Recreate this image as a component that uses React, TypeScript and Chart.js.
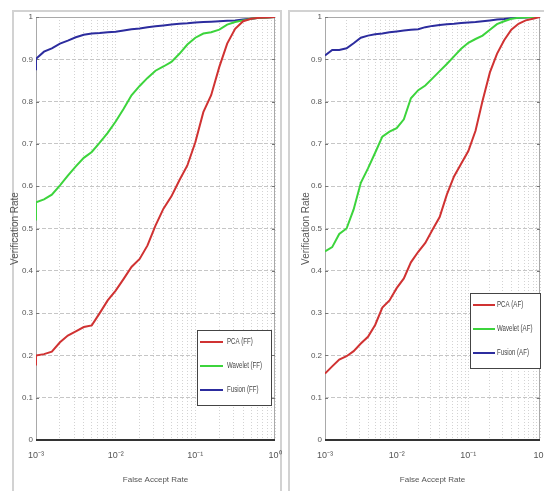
import React, { useEffect, useRef } from 'react';
import { Chart, registerables } from 'chart.js';

Chart.register(...registerables);

// ---------- data ----------
const FAR_LEFT = [0.001, 0.001, 0.00126, 0.00158, 0.002, 0.00251, 0.00316, 0.00398, 0.00501, 0.00631, 0.00794,
  0.01, 0.0126, 0.0158, 0.02, 0.0251, 0.0316, 0.0398, 0.0501, 0.0631, 0.0794,
  0.1, 0.126, 0.158, 0.2, 0.251, 0.316, 0.398, 0.501, 0.631, 0.794, 1];
const FAR_RIGHT = [0.001, 0.00126, 0.00158, 0.002, 0.00251, 0.00316, 0.00398, 0.00501, 0.00631, 0.00794,
  0.01, 0.0126, 0.0158, 0.02, 0.0251, 0.0316, 0.0398, 0.0501, 0.0631, 0.0794,
  0.1, 0.126, 0.158, 0.2, 0.251, 0.316, 0.398, 0.501, 0.631, 0.794, 1];

const PCA_FF = [0.176, 0.200, 0.203, 0.209, 0.231, 0.247, 0.257, 0.267, 0.271, 0.300, 0.330, 0.353, 0.381, 0.409,
  0.428, 0.460, 0.507, 0.547, 0.576, 0.614, 0.649, 0.704, 0.775, 0.815, 0.882, 0.937, 0.972, 0.990, 0.996, 0.998, 0.999, 1.0];
const WAVELET_FF = [0.519, 0.562, 0.569, 0.580, 0.602, 0.625, 0.647, 0.667, 0.681, 0.703, 0.726, 0.753, 0.783, 0.815,
  0.837, 0.856, 0.873, 0.883, 0.894, 0.913, 0.935, 0.951, 0.961, 0.964, 0.970, 0.982, 0.988, 0.992, 0.996, 0.998, 0.999, 1.0];
const FUSION_FF = [0.874, 0.901, 0.918, 0.926, 0.937, 0.944, 0.952, 0.958, 0.961, 0.962, 0.964, 0.965, 0.968, 0.971,
  0.973, 0.976, 0.978, 0.980, 0.982, 0.984, 0.985, 0.987, 0.988, 0.989, 0.990, 0.991, 0.992, 0.994, 0.996, 0.998, 0.999, 1.0];

const PCA_AF = [0.157, 0.174, 0.190, 0.198, 0.210, 0.228, 0.244, 0.272, 0.313, 0.330, 0.359, 0.382, 0.420, 0.445,
  0.466, 0.497, 0.527, 0.580, 0.623, 0.653, 0.683, 0.731, 0.802, 0.869, 0.913, 0.945, 0.970, 0.984, 0.992, 0.996, 1.0];
const WAVELET_AF = [0.446, 0.456, 0.487, 0.500, 0.545, 0.608, 0.642, 0.679, 0.717, 0.729, 0.737, 0.758, 0.808, 0.827,
  0.838, 0.855, 0.872, 0.889, 0.907, 0.925, 0.939, 0.948, 0.956, 0.970, 0.983, 0.990, 0.996, 0.998, 0.999, 1.0, 1.0];
const FUSION_AF = [0.909, 0.922, 0.922, 0.926, 0.938, 0.951, 0.956, 0.959, 0.961, 0.964, 0.966, 0.968, 0.970, 0.971,
  0.976, 0.979, 0.981, 0.983, 0.984, 0.986, 0.987, 0.988, 0.990, 0.992, 0.994, 0.995, 0.997, 0.998, 0.999, 1.0, 1.0];

const LEFT_LABELS = ['PCA (FF)', 'Wavelet (FF)', 'Fusion (FF)'];
const RIGHT_LABELS = ['PCA (AF)', 'Wavelet (AF)', 'Fusion (AF)'];

const X_MAJOR = [0.001, 0.01, 0.1, 1];
const X_TICK_LABELS = ['10\u207B\u00B3', '10\u207B\u00B2', '10\u207B\u00B9', '10\u2070'];
const X_MINOR_STEPS = [2, 3, 4, 5, 6, 7, 8, 9];
const Y_TICK_LABELS = ['0', '0.1', '0.2', '0.3', '0.4', '0.5', '0.6', '0.7', '0.8', '0.9', '1'];
const X_TITLE = 'False Accept Rate';
const Y_TITLE = 'Verification Rate';

const COLORS = ['#d03232', '#3cd43c', '#2c2c9e'];

// ---------- styling ----------
const SANS = "'Liberation Sans', Arial, sans-serif";
const TEXT = '#555';

const X_GRID = X_MAJOR.flatMap((d, i) =>
  i < X_MAJOR.length - 1 ? [d, ...X_MINOR_STEPS.map((m) => +(d * m).toPrecision(3))] : [d]
);

const axesBox = {
  id: 'axesBox',
  beforeDatasetsDraw(chart: any) {
    const { ctx, chartArea } = chart;
    const { left, right, top, bottom } = chartArea;
    ctx.save();
    ctx.setLineDash([]);
    ctx.lineWidth = 1;
    ctx.strokeStyle = '#a9a9a9';
    ctx.beginPath();
    ctx.moveTo(left + 0.5, bottom);
    ctx.lineTo(left + 0.5, top + 0.5);
    ctx.lineTo(right - 0.5, top + 0.5);
    ctx.lineTo(right - 0.5, bottom);
    ctx.stroke();
    const ys = chart.scales.y;
    ctx.strokeStyle = '#777';
    ctx.beginPath();
    ys.ticks.forEach((t: any) => {
      const y = Math.round(ys.getPixelForValue(t.value)) + 0.5;
      ctx.moveTo(left, y);
      ctx.lineTo(left + 3, y);
      ctx.moveTo(right, y);
      ctx.lineTo(right - 3, y);
    });
    ctx.stroke();
    ctx.strokeStyle = '#333';
    ctx.lineWidth = 2;
    ctx.beginPath();
    ctx.moveTo(left, bottom);
    ctx.lineTo(right, bottom);
    ctx.stroke();
    ctx.restore();
  },
};

const boxLegend = {
  id: 'boxLegend',
  afterDatasetsDraw(chart: any, _args: any, opts: any) {
    const { ctx, chartArea } = chart;
    const w = opts.width;
    const h = opts.height;
    const x = Math.round(chartArea.right - opts.right - w);
    const y = Math.round(chartArea.bottom - opts.bottom - h);
    ctx.save();
    ctx.setLineDash([]);
    ctx.fillStyle = '#fff';
    ctx.fillRect(x, y, w, h);
    ctx.strokeStyle = '#444';
    ctx.lineWidth = 1;
    ctx.strokeRect(x + 0.5, y + 0.5, w, h);
    ctx.font = `9px ${SANS}`;
    ctx.textBaseline = 'middle';
    ctx.textAlign = 'left';
    chart.data.datasets.forEach((ds: any, i: number) => {
      const yy = y + opts.rowTop + i * opts.rowGap;
      ctx.strokeStyle = ds.borderColor;
      ctx.lineWidth = 2;
      ctx.beginPath();
      ctx.moveTo(x + opts.lineStart, yy);
      ctx.lineTo(x + opts.lineEnd, yy);
      ctx.stroke();
      ctx.save();
      ctx.translate(x + opts.textStart, yy);
      ctx.scale(0.68, 1);
      ctx.fillStyle = '#444';
      ctx.fillText(ds.label, 0, 0);
      ctx.restore();
    });
    ctx.restore();
  },
};

type PanelProps = {
  left: number;
  width: number;
  yAxisWidth: number;
  rightPad: number;
  yTitlePad: number;
  far: number[];
  series: number[][];
  labels: string[];
  legend: any;
};

function Panel(props: PanelProps) {
  const ref = useRef<HTMLCanvasElement | null>(null);
  useEffect(() => {
    if (!ref.current) return;
    const chart = new Chart(ref.current, {
      type: 'line',
      data: {
        datasets: props.series.map((vals, i) => ({
          label: props.labels[i],
          data: props.far.map((x, j) => ({ x, y: vals[j] })),
          borderColor: COLORS[i],
          backgroundColor: COLORS[i],
          borderWidth: 2,
          pointRadius: 0,
          tension: 0,
          fill: false,
        })),
      },
      options: {
        animation: false,
        responsive: false,
        devicePixelRatio: 1,
        layout: { padding: { left: 0, top: 17, right: props.rightPad, bottom: 0 } },
        plugins: {
          legend: { display: false },
          tooltip: { enabled: false },
          boxLegend: props.legend,
        } as any,
        scales: {
          x: {
            type: 'logarithmic',
            min: 0.001,
            max: 1,
            afterBuildTicks: (s: any) => {
              s.ticks = X_GRID.map((v) => ({ value: v }));
            },
            afterFit: (s: any) => {
              s.height = 51;
              s.paddingLeft = 0;
              s.paddingRight = 0;
            },
            ticks: {
              autoSkip: false,
              maxRotation: 0,
              minRotation: 0,
              padding: 10,
              color: TEXT,
              font: { family: SANS, size: 9 },
              callback: (v: any) => {
                const idx = X_MAJOR.findIndex((m) => Math.abs(Math.log10(Number(v)) - Math.log10(m)) < 1e-6);
                return idx >= 0 ? X_TICK_LABELS[idx] : '';
              },
            },
            grid: { color: '#d3d3d3', lineWidth: 1, drawTicks: false },
            border: { display: false, dash: [1, 2] },
            title: {
              display: true,
              text: X_TITLE,
              color: TEXT,
              font: { family: SANS, size: 8 },
              padding: { top: 0, bottom: 6 },
            },
          },
          y: {
            min: 0,
            max: 1,
            afterFit: (s: any) => {
              s.width = props.yAxisWidth;
              s.paddingTop = 0;
              s.paddingBottom = 0;
            },
            ticks: {
              stepSize: 0.1,
              padding: 3,
              color: TEXT,
              font: { family: SANS, size: 8 },
              callback: (v: any) => Y_TICK_LABELS[Math.round(Number(v) * 10)],
            },
            grid: { color: '#c6c6c6', lineWidth: 1, drawTicks: false },
            border: { display: false, dash: [4, 2] },
            title: {
              display: true,
              text: Y_TITLE,
              color: TEXT,
              font: { family: SANS, size: 10 },
              padding: { top: props.yTitlePad, bottom: 0 },
            },
          },
        },
      },
      plugins: [axesBox, boxLegend],
    } as any);
    return () => chart.destroy();
  }, []);
  return (
    <canvas
      ref={ref}
      width={props.width}
      height={491}
      style={{ position: 'absolute', left: props.left, top: 0, width: props.width, height: 491 }}
    />
  );
}

export default function App() {
  return (
    <div
      style={{
        position: 'fixed',
        left: 0,
        top: 0,
        width: 544,
        height: 491,
        overflow: 'hidden',
        background: '#fff',
      }}
    >
      <div
        style={{
          position: 'absolute',
          left: 12,
          top: 10,
          width: 270,
          height: 500,
          border: '2px solid #d2d2d2',
          boxSizing: 'border-box',
          background: '#fff',
        }}
      />
      <div
        style={{
          position: 'absolute',
          left: 288,
          top: 10,
          width: 270,
          height: 500,
          border: '2px solid #d2d2d2',
          boxSizing: 'border-box',
          background: '#fff',
        }}
      />
      <Panel
        left={0}
        width={282}
        yAxisWidth={36}
        rightPad={7}
        yTitlePad={9}
        far={FAR_LEFT}
        series={[PCA_FF, WAVELET_FF, FUSION_FF]}
        labels={LEFT_LABELS}
        legend={{ right: 4, bottom: 35, width: 74, height: 75, rowTop: 12, rowGap: 24, lineStart: 3, lineEnd: 26, textStart: 30 }}
      />
      <Panel
        left={282}
        width={262}
        yAxisWidth={43}
        rightPad={4}
        yTitlePad={18}
        far={FAR_RIGHT}
        series={[PCA_AF, WAVELET_AF, FUSION_AF]}
        labels={RIGHT_LABELS}
        legend={{ right: 0, bottom: 72, width: 70, height: 75, rowTop: 12, rowGap: 24, lineStart: 3, lineEnd: 25, textStart: 27 }}
      />
    </div>
  );
}
